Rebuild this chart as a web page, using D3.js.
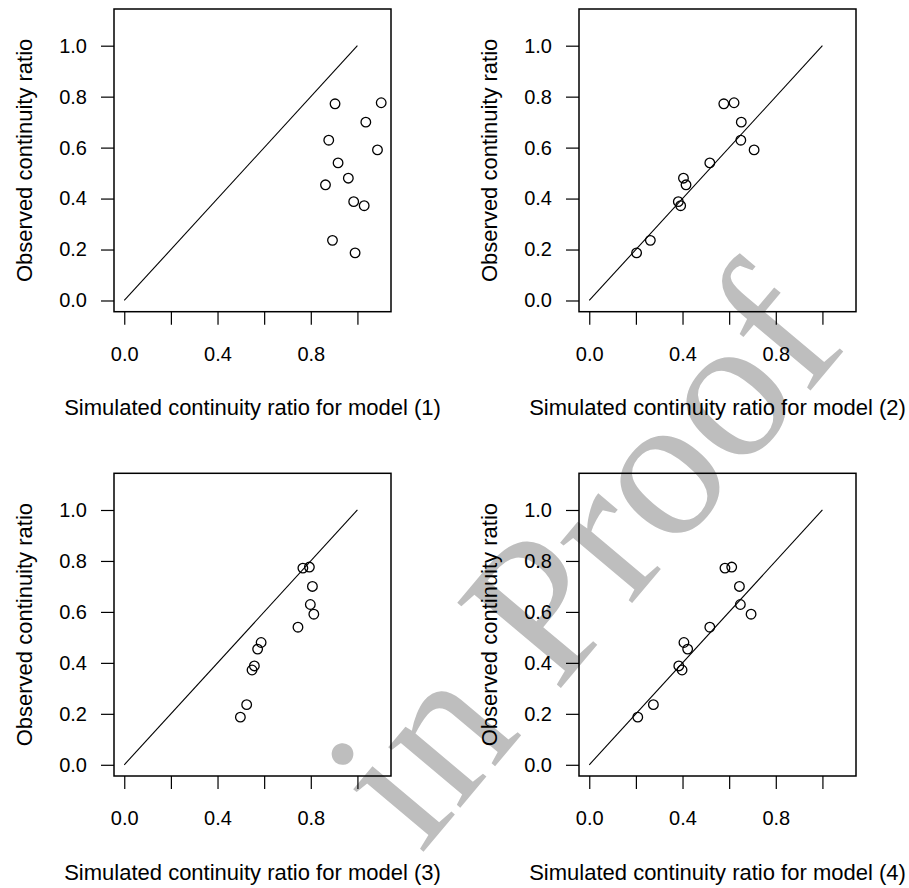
<!DOCTYPE html>
<html lang="en">
	<head>
		<meta charset="utf-8">
		<title>Observed vs simulated continuity ratio</title>
		<script type="text/javascript" src="https://cdn.jsdelivr.net/npm/d3@7"></script>
		<style type="text/css">
		body { margin: 0; background: #fff; }
		text { font-family: "Liberation Sans", Arial, Helvetica, sans-serif; fill: #000; }
		.tick line { stroke: #000; stroke-width: 1.2; }
		.tick text { font-size: 20px; }
		.title { font-size: 22px; }
		.mark { fill: none; stroke: #000; stroke-width: 1.3; }
		</style>
	</head>
	<body>
		<script type="text/javascript">

		//Width and height
		var w = 909;
		var h = 888;

		//observed ratio, same for all four panels
		var observed = [0.772, 0.776, 0.700, 0.629, 0.591, 0.540, 0.480, 0.454, 0.388, 0.372, 0.236, 0.187];

		//simulated ratio per model
		var sim1 = [0.904, 1.102, 1.036, 0.877, 1.086, 0.917, 0.961, 0.863, 0.984, 1.029, 0.893, 0.990];
		var sim2 = [0.577, 0.621, 0.652, 0.650, 0.707, 0.517, 0.404, 0.415, 0.382, 0.392, 0.262, 0.203];
		var sim3 = [0.766, 0.794, 0.807, 0.798, 0.813, 0.745, 0.587, 0.572, 0.558, 0.548, 0.525, 0.498];
		var sim4 = [0.582, 0.611, 0.644, 0.648, 0.694, 0.517, 0.406, 0.422, 0.384, 0.398, 0.275, 0.208];

		var models = ["(1)", "(2)", "(3)", "(4)"];
		var simulated = [sim1, sim2, sim3, sim4];

		var tickVals = [0, 0.2, 0.4, 0.6, 0.8, 1.0];
		var xLabels = ["0.0", "", "0.4", "", "0.8", ""];
		var yLabels = ["0.0", "0.2", "0.4", "0.6", "0.8", "1.0"];
		var xTitle = "Simulated continuity ratio for model ";
		var yTitle = "Observed continuity ratio";
		var watermark = "in Proof";

		//R style limits: 0..1.1 plus 4%
		var lim = [-0.044, 1.144];

		var boxW = 277;
		var boxH = 302.7;
		var boxLefts = [114, 579];
		var boxTops = [9, 473.3];

		var svg = d3.select("body")
					.append("svg")
					.attr("width", w)
					.attr("height", h);

		//gray watermark behind the plots
		svg.append("text")
			.attr("transform", "translate(340,752) rotate(-50)")
			.attr("x", -27)
			.attr("y", 128)
			.style("font-family", "'Liberation Serif', 'Times New Roman', serif")
			.style("font-size", "205px")
			.style("fill", "rgb(190,190,190)")
			.text(watermark);

		var drawPanel = function(p) {
			var bLeft = boxLefts[p % 2];
			var bTop = boxTops[Math.floor(p / 2)];
			var sim = simulated[p];

			var x = d3.scaleLinear().domain(lim).range([bLeft, bLeft + boxW]);
			var y = d3.scaleLinear().domain(lim).range([bTop + boxH, bTop]);

			var g = svg.append("g");

			//x axis, labels only on every other tick
			var xAxis = g.append("g")
				.attr("transform", "translate(0," + (bTop + boxH) + ")")
				.call(d3.axisBottom(x)
					.tickValues(tickVals)
					.tickSize(13)
					.tickFormat(function(d, i) { return xLabels[i]; }));
			xAxis.select(".domain").remove();
			xAxis.selectAll(".tick text")
				.attr("y", 49)
				.attr("dy", null);

			var yAxis = g.append("g")
				.attr("transform", "translate(" + bLeft + ",0)")
				.call(d3.axisLeft(y)
					.tickValues(tickVals)
					.tickSize(13)
					.tickFormat(function(d, i) { return yLabels[i]; }));
			yAxis.select(".domain").remove();
			yAxis.selectAll(".tick text")
				.attr("x", -27);

			g.selectAll(".tick text").attr("fill", null);
			g.selectAll(".tick line").attr("stroke", null);

			//1:1 line
			g.append("line")
				.attr("x1", x(0)).attr("y1", y(0))
				.attr("x2", x(1)).attr("y2", y(1))
				.style("stroke", "#000")
				.style("stroke-width", 1.1);

			g.selectAll("circle")
				.data(sim)
				.enter()
				.append("circle")
				.attr("class", "mark")
				.attr("cx", function(d) { return x(d); })
				.attr("cy", function(d, i) { return y(observed[i]); })
				.attr("r", 4.8);

			//frame
			g.append("rect")
				.attr("x", bLeft)
				.attr("y", bTop)
				.attr("width", boxW)
				.attr("height", boxH)
				.style("fill", "none")
				.style("stroke", "#000")
				.style("stroke-width", 1.5);

			g.append("text")
				.attr("class", "title")
				.attr("x", bLeft + boxW / 2)
				.attr("y", bTop + boxH + 103.5)
				.attr("text-anchor", "middle")
				.text(xTitle + models[p]);

			g.append("text")
				.attr("class", "title")
				.attr("transform", "translate(" + (bLeft - 82) + "," + (bTop + boxH / 2) + ") rotate(-90)")
				.attr("text-anchor", "middle")
				.text(yTitle);
		};

		for (var p = 0; p < 4; p++) {
			drawPanel(p);
		}

		</script>
	</body>
</html>
